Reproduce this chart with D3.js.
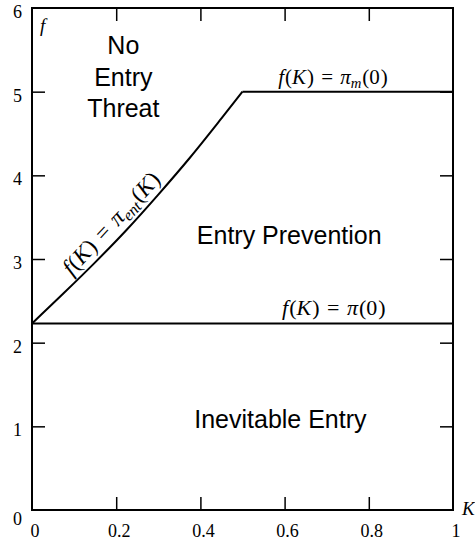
<!DOCTYPE html>
<html><head><meta charset="utf-8">
<script src="https://cdn.jsdelivr.net/npm/d3@7"></script>
<style>body{margin:0;background:#fff}svg{display:block}</style>
</head><body>
<script>
const xTicks = [0, 0.2, 0.4, 0.6, 0.8, 1];
const xTickLabels = ["0", "0.2", "0.4", "0.6", "0.8", "1"];
const yTicks = [0, 1, 2, 3, 4, 5, 6];
const yTickLabels = ["0", "1", "2", "3", "4", "5", "6"];
// boundary curves
const entK = [0, 0.075, 0.15, 0.225, 0.3, 0.375, 0.45, 0.5];
const entF = [2.23, 2.59, 2.96, 3.35, 3.77, 4.21, 4.68, 5.0];
const monoK = [0.5, 1];
const monoF = [5.0, 5.0];
const pi0K = [0, 1];
const pi0F = [2.23, 2.23];
const regionNames = ["No Entry Threat", "Entry Prevention", "Inevitable Entry"];

const W = 475, H = 542;
const m = {l: 32, r: 22, t: 8, b: 32};
const svg = d3.select("body").append("svg").attr("width", W).attr("height", H);
const x = d3.scaleLinear().domain([0, 1]).range([m.l, W - m.r]);
const y = d3.scaleLinear().domain([0, 6]).range([H - m.b, m.t]);
const serif = "'Liberation Serif', 'Times New Roman', serif";
const sans = "'Liberation Sans', Arial, sans-serif";

// frame
svg.append("rect").attr("x", x(0)).attr("y", y(6)).attr("width", x(1) - x(0)).attr("height", y(0) - y(6))
  .attr("fill", "none").attr("stroke", "#000").attr("stroke-width", 2);

const tl = 13;
const inner = xTicks.filter(d => d > 0 && d < 1);
const innerY = yTicks.filter(d => d > 0 && d < 6);
const axB = svg.append("g").attr("transform", `translate(0,${y(0)})`)
  .call(d3.axisBottom(x).tickValues(inner).tickSize(-tl).tickFormat(""));
const axT = svg.append("g").attr("transform", `translate(0,${y(6)})`)
  .call(d3.axisTop(x).tickValues(inner).tickSize(-tl).tickFormat(""));
const axL = svg.append("g").attr("transform", `translate(${x(0)},0)`)
  .call(d3.axisLeft(y).tickValues(innerY).tickSize(-tl).tickFormat(""));
const axR = svg.append("g").attr("transform", `translate(${x(1)},0)`)
  .call(d3.axisRight(y).tickValues(innerY).tickSize(-tl).tickFormat(""));
[axB, axT, axL, axR].forEach(a => { a.select(".domain").remove(); a.selectAll("line").attr("stroke", "#000").attr("stroke-width", 1.5); });

// tick labels
svg.selectAll(".xl").data(xTicks).enter().append("text")
  .attr("x", d => x(d) + 3).attr("y", y(0) + 27).attr("text-anchor", "middle")
  .attr("font-family", serif).attr("font-size", 18).text((d, i) => xTickLabels[i]);
svg.selectAll(".yl").data(yTicks).enter().append("text")
  .attr("x", x(0) - 10).attr("y", d => y(d) + (d === 0 ? 15 : 10)).attr("text-anchor", "end")
  .attr("font-family", serif).attr("font-size", 18).text((d, i) => yTickLabels[i]);

// axis labels
svg.append("text").attr("x", x(0) + 8).attr("y", y(6) + 24).attr("font-family", serif)
  .attr("font-style", "italic").attr("font-size", 19).text("f");
svg.append("text").attr("x", x(1) + 9).attr("y", y(0) + 5).attr("font-family", serif)
  .attr("font-style", "italic").attr("font-size", 19).text("K");

// lines
const line = d3.line().x(d => x(d[0])).y(d => y(d[1]));
const curve = d3.line().x(d => x(d[0])).y(d => y(d[1])).curve(d3.curveMonotoneX);
svg.append("path").datum(entK.map((k, i) => [k, entF[i]])).attr("d", curve)
  .attr("fill", "none").attr("stroke", "#000").attr("stroke-width", 2);
[[monoK, monoF], [pi0K, pi0F]].forEach(([ks, fs]) => {
  svg.append("path").datum(ks.map((k, i) => [k, fs[i]])).attr("d", line)
    .attr("fill", "none").attr("stroke", "#000").attr("stroke-width", 2).attr("stroke-linejoin", "round");
});

// region labels
const reg = (txt, cx, cy) => svg.append("text").attr("x", cx).attr("y", cy).attr("text-anchor", "middle")
  .attr("font-family", sans).attr("font-size", 25).attr("fill", "#000").text(txt);
const nw = regionNames[0].split(" ");
reg(nw[0], x(0.217), 54); reg(nw[1], x(0.217), 86); reg(nw[2], x(0.217), 117);
reg(regionNames[1], x(0.611), y(3.18));
reg(regionNames[2], x(0.59), y(0.98));

// math labels
function mathLabel(g, sub, arg, fs) {
  const t = g.append("text").attr("font-family", serif).attr("font-size", fs).attr("text-anchor", "middle");
  t.append("tspan").attr("font-style", "italic").text("f");
  t.append("tspan").attr("dx", 1).text("(");
  t.append("tspan").attr("font-style", "italic").text("K");
  t.append("tspan").attr("dx", 1).text(")");
  t.append("tspan").attr("dx", fs * 0.34).text("=");
  t.append("tspan").attr("dx", fs * 0.34).attr("font-style", "italic").text("π");
  if (sub) {
    t.append("tspan").attr("font-style", "italic").attr("font-size", fs * 0.7).attr("dy", fs * 0.2).text(sub);
    t.append("tspan").attr("dx", 1).attr("dy", -fs * 0.2).text("(");
  } else t.append("tspan").attr("dx", 1).text("(");
  if (arg === "K") t.append("tspan").attr("font-style", "italic").text("K");
  else t.append("tspan").text(arg);
  t.append("tspan").attr("dx", 1).text(")");
  return t;
}
mathLabel(svg.append("g").attr("transform", `translate(${x(0.715)},${y(5) - 8})`), "m", "0", 21);
mathLabel(svg.append("g").attr("transform", `translate(${x(0.717)},${y(2.23) - 8})`), null, "0", 22);
const ang = Math.atan2(y(entF[5]) - y(entF[1]), x(entK[5]) - x(entK[1])) * 180 / Math.PI;
mathLabel(svg.append("g").attr("transform", `translate(${x(0.215)},${y(3.3)}) rotate(${ang}) translate(0,-8)`), "ent", "K", 23);
</script>
</body></html>
